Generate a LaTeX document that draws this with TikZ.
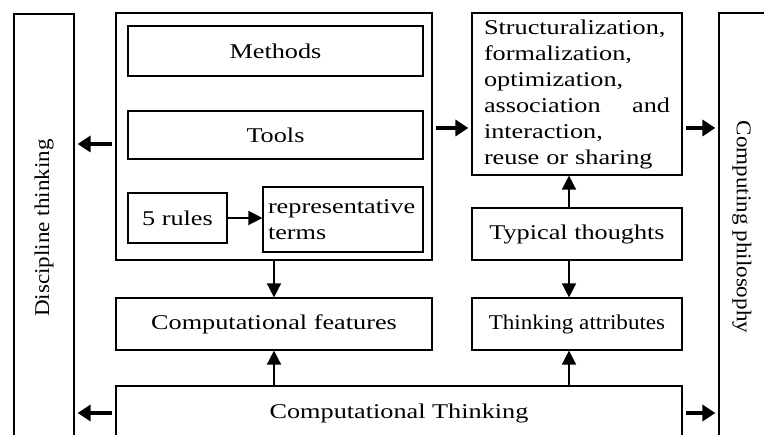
\documentclass[tikz,border=0pt]{standalone}
\usepackage{fontspec}
\setmainfont{Liberation Serif}[FakeStretch=1.25]
\newfontfamily\narrowfont{Liberation Serif}[FakeStretch=1.1]
\usetikzlibrary{arrows.meta}

\begin{document}
\begin{tikzpicture}[x=1pt, y=-1pt, thick,
	box/.style={draw, line width=1.2pt, inner sep=0pt, align=center, font=\fontsize{21}{26}\selectfont},
	flow/.style={-{Triangle[length=14pt, width=14pt]}, line width=1.6pt},
	fat/.style={-{Triangle[length=13pt, width=16pt]}, line width=4.5pt, shorten <=3pt, shorten >=3pt}]
	\useasboundingbox (0,0) rectangle (764,435);

	% outer columns
	\node[box, minimum width=60pt, minimum height=428pt] (disc) at (44,228) {\rotatebox{90}{\narrowfont Discipline thinking}};
	\node[box, minimum width=46pt, minimum height=428pt] (phil) at (742,227) {\rotatebox{-90}{\narrowfont Computing philosophy}};

	% left block
	\node[box, minimum width=316pt, minimum height=247pt] (cont) at (274,136.5) {};
	\node[box, minimum width=295pt, minimum height=50pt] (meth) at (275.5,51) {Methods};
	\node[box, minimum width=295pt, minimum height=48pt] (tools) at (275.5,135) {Tools};
	\node[box, minimum width=99pt, minimum height=50pt] (rules) at (177.5,218) {5 rules};
	\node[box, minimum width=160pt, minimum height=65pt, text width=150pt, inner xsep=5pt, align=left] (terms) at (343,219.5) {representative\\ terms};
	\node[box, minimum width=316pt, minimum height=52pt] (feat) at (274,324) {Computational features};

	% right block
	\node[box, minimum width=210pt, minimum height=162pt, text width=186pt, inner xsep=12pt, align=left] (struct) at (577,94)
		{Structuralization,\\ formalization,\\ optimization,\\ association\hfill and\\ interaction,\\ reuse or sharing};
	\node[box, minimum width=210pt, minimum height=52pt] (typ) at (577,234) {Typical thoughts};
	\node[box, minimum width=210pt, minimum height=52pt] (attr) at (577,324) {\narrowfont Thinking attributes};

	\node[box, minimum width=566pt, minimum height=54pt] (ct) at (399,413) {Computational Thinking};

	\coordinate (attrin) at ([xshift=-8pt]attr.south);

	\path[flow]
		(rules.east) edge (rules.east -| terms.west)
		(cont.south) edge (feat.north)
		(ct.north -| feat.south) edge (feat.south)
		([xshift=-8pt]typ.north) edge ([xshift=-8pt]struct.south)
		([xshift=-8pt]typ.south) edge ([xshift=-8pt]attr.north)
		(ct.north -| attrin) edge (attrin);

	\path[fat]
		(cont.west |- 0,144) edge (disc.east |- 0,144)
		(cont.east |- 0,128) edge (struct.west |- 0,128)
		(struct.east |- 0,128) edge (phil.west |- 0,128)
		(ct.west) edge (disc.east |- ct.west)
		(ct.east) edge (phil.west |- ct.east);
\end{tikzpicture}
\end{document}
